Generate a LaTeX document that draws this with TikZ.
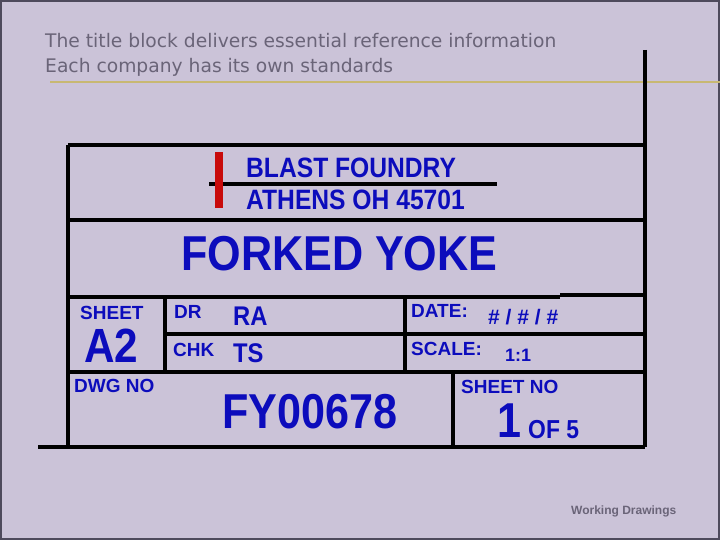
\documentclass[tikz,border=0pt]{standalone}
\usepackage{fontspec}
\setmainfont{Liberation Sans}
\newfontfamily\blockfont{Liberation Sans}[FakeStretch=0.88]
\newfontfamily\notefont{DejaVu Sans}
\definecolor{slide}{HTML}{CBC3D8}
\definecolor{rim}{HTML}{4E4A5C}
\definecolor{tanline}{HTML}{C8B872}
\definecolor{ink}{HTML}{0C0CBC}
\definecolor{note}{HTML}{6A6478}
\definecolor{barred}{HTML}{C80A0A}

\begin{document}
\begin{tikzpicture}[
    x = 1pt, y = -1pt,
    every node/.style = {inner sep = 0pt, anchor = base west},
    frame/.style = {line width = 4pt},
    field/.style = {text = ink, font = \bfseries\fontsize{19}{21}\selectfont},
    entry/.style = {text = ink, font = \blockfont\bfseries\fontsize{27}{30}\selectfont},
    big/.style = {text = ink, font = \blockfont\bfseries\fontsize{49}{52}\selectfont}]

% slide
\fill[slide] (0,0) rectangle (720,540);
\useasboundingbox (0,0) rectangle (720,540);
\draw[rim, line width = 2pt] (1,1) rectangle (719,539);
\draw[tanline, line width = 2pt] (50,82) -- (720,82);

\path (45,48) node[text = note, font = \notefont\fontsize{18.7}{20}\selectfont] (title1)
        {The title block delivers essential reference information}
      (45,73) node[text = note, font = \notefont\fontsize{18.7}{20}\selectfont] (title2)
        {Each company has its own standards};

% title block lines
\draw[frame] (645,50) -- (645,447)
      (68,145) -- (645,145)
      (68,145) -- (68,447)
      (68,220) -- (645,220)
      (68,297) -- (560,297)
      (560,295) -- (645,295)
      (165,297) -- (165,372)
      (405,297) -- (405,372)
      (165,334) -- (645,334)
      (68,372) -- (645,372)
      (453,372) -- (453,447)
      (38,447) -- (645,447);
\draw[line width = 3.5pt] (209,184) -- (497,184);
\fill[barred] (215,152) rectangle (223,208);

\path (246,178) node[entry, font = \blockfont\bfseries\fontsize{28}{30}\selectfont] (foundry) {BLAST FOUNDRY}
      (246,210) node[entry, font = \blockfont\bfseries\fontsize{28}{30}\selectfont] (city) {ATHENS OH 45701}
      (181,270) node[big] (part) {FORKED YOKE}
      (80,319) node[field] (sheet) {SHEET}
      (84,362) node[big, font = \blockfont\bfseries\fontsize{48}{50}\selectfont] (size) {A2}
      (74,392) node[field] (dwg) {DWG NO}
      (174,318) node[field] (dr) {DR}
      (233,325) node[entry] (drname) {RA}
      (173,356) node[field] (chk) {CHK}
      (233,362) node[entry] (chkname) {TS}
      (411,317) node[field] (date) {DATE:}
      (488,324) node[text = ink, font = \bfseries\fontsize{21}{23}\selectfont] (dateval) {\# / \# / \#}
      (411,355) node[field] (scale) {SCALE:}
      (505,361) node[text = ink, font = \bfseries\fontsize{18}{20}\selectfont] (scaleval) {1:1}
      (222,428) node[big] (number) {FY00678}
      (461,393) node[field] (sheetno) {SHEET NO}
      (497,437) node[big] (sheetnum) {1}
      (528,438) node[entry, font = \blockfont\bfseries\fontsize{26}{28}\selectfont] (total) {OF 5};

\path (571,514) node[text = note, font = \bfseries\fontsize{12}{14}\selectfont] (footer) {Working Drawings};
\end{tikzpicture}
\end{document}
